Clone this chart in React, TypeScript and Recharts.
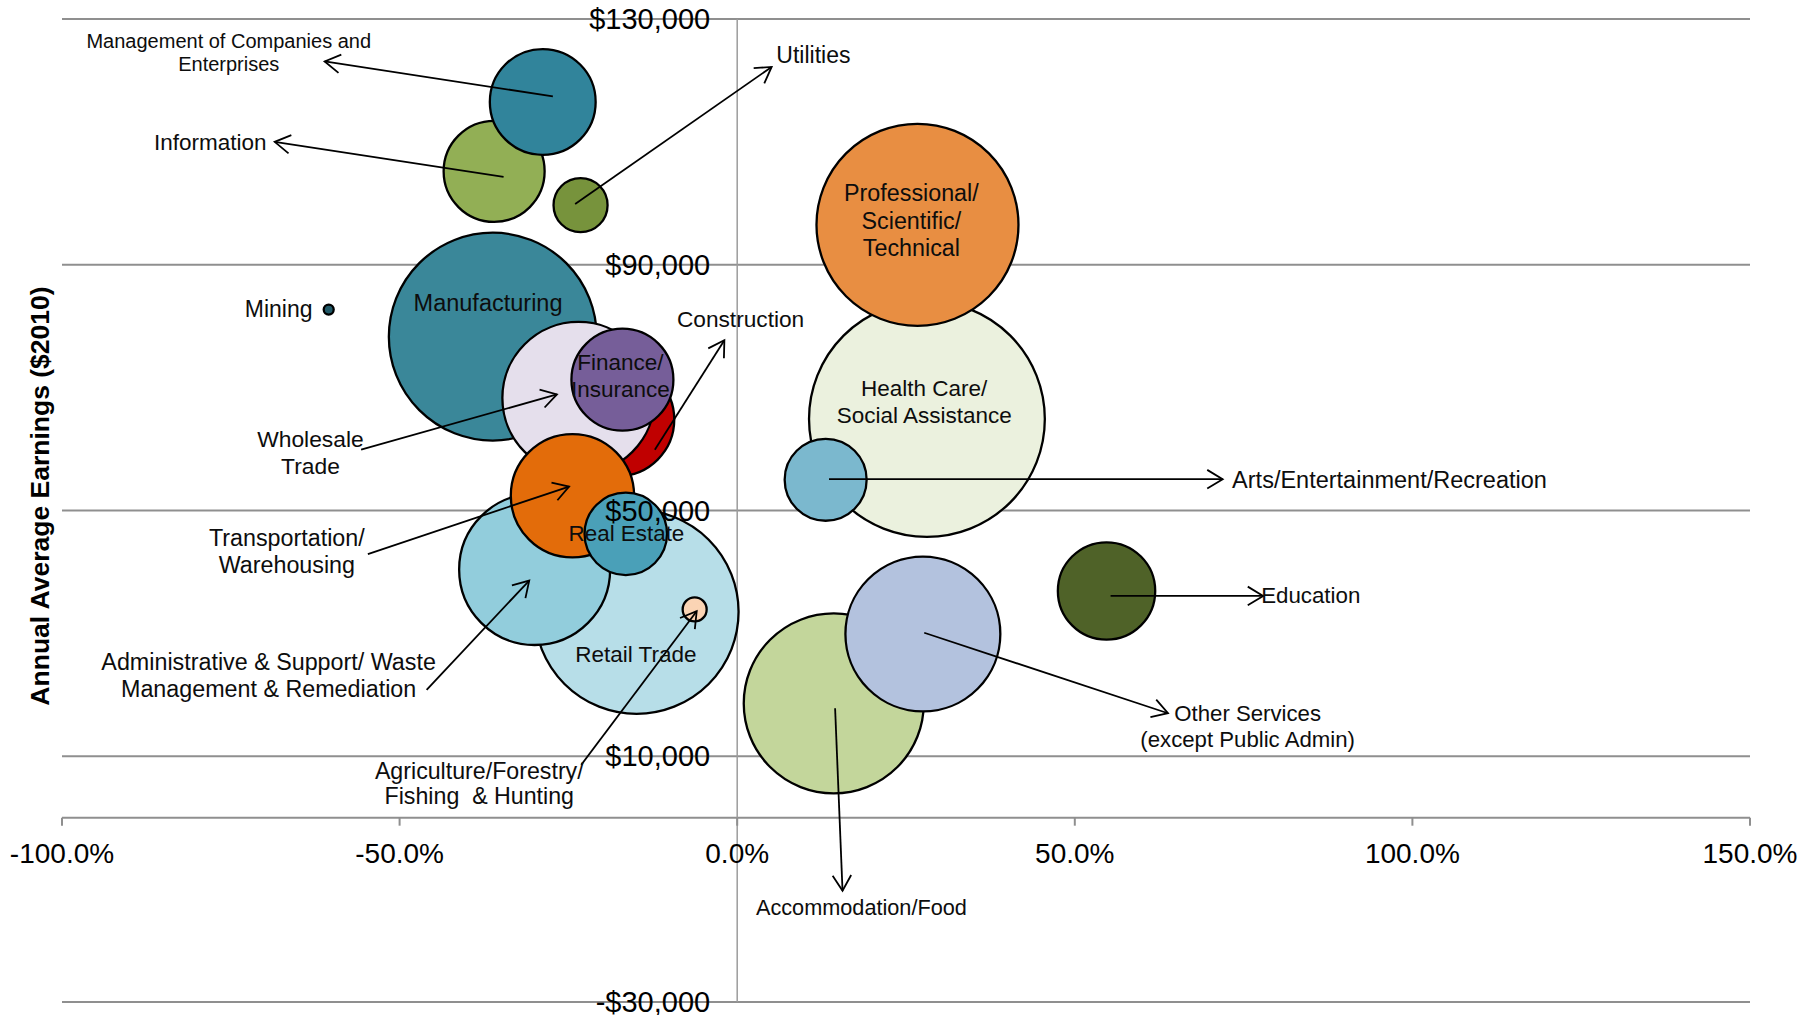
import React from 'react';
import { ScatterChart, Scatter, XAxis, YAxis, ZAxis, Cell, ReferenceLine, ReferenceDot } from 'recharts';

// ---- data (draw order: first drawn = bottom) ----
const industries = [
  'Health Care/Social Assistance',
  'Manufacturing',
  'Retail Trade',
  'Professional/Scientific/Technical',
  'Accommodation/Food',
  'Other Services (except Public Admin)',
  'Construction',
  'Wholesale Trade',
  'Administrative & Support/ Waste Management & Remediation',
  'Transportation/Warehousing',
  'Finance/Insurance',
  'Real Estate',
  'Information',
  'Management of Companies and Enterprises',
  'Education',
  'Arts/Entertainment/Recreation',
  'Utilities',
  'Agriculture/Forestry/Fishing & Hunting',
  'Mining',
];
// percent change in employment
const employmentChange = [28.1, -36.2, -14.9, 26.7, 14.3, 27.5, -17.7, -23.5, -30.0, -24.4, -17.0, -16.5, -36.0, -28.8, 54.7, 13.1, -23.2, -6.3, -60.5];
// annual average earnings ($2010)
const avgEarnings = [64900, 78300, 33500, 96500, 18600, 29900, 64800, 68300, 40400, 52400, 71300, 46200, 105200, 116500, 36900, 55000, 99700, 33900, 82700];
// employment (bubble size)
const employment = [13900, 10800, 10400, 10200, 8100, 6000, 3200, 5800, 5700, 3800, 2600, 1700, 2550, 2800, 2370, 1680, 730, 144, 25];

const xTicks = [-100, -50, 0, 50, 100, 150];
const yTicks = [-30000, 10000, 50000, 90000, 130000];

// ---- styles ----
const bubbleColors = ['#EBF1DE', '#3A8799', '#B7DEE8', '#E88E42', '#C3D69B', '#B3C2DE', '#C00000', '#E5DFEC', '#92CDDC', '#E36C0A', '#765E99', '#4AA0B8', '#92AF55', '#31849B', '#4F6228', '#7BB8CE', '#77933C', '#FBD4B4', '#215968'];
const FONT = '"Liberation Sans", Arial, sans-serif';
const GRID = '#8f8f8f';

// ---- annotations (data coordinates) ----
const arrowLinks = [
  { from: [-27.3, 117400], to: [-61.1, 123100] },
  { from: [-34.6, 104300], to: [-68.5, 110000] },
  { from: [-24.0, 99900], to: [5.1, 122200] },
  { from: [-55.7, 59900], to: [-26.7, 68900] },
  { from: [-12.2, 59900], to: [-1.9, 77700] },
  { from: [-54.7, 42900], to: [-24.9, 53900] },
  { from: [-46.0, 20800], to: [-30.8, 38600] },
  { from: [-23.1, 8600], to: [-6.0, 33600] },
  { from: [13.6, 55100], to: [71.9, 55100] },
  { from: [55.3, 36100], to: [77.9, 36100] },
  { from: [27.7, 30100], to: [63.8, 17000] },
  { from: [14.5, 17800], to: [15.6, -11900] },
];

const callouts = [
  { lines: ['Management of Companies and', 'Enterprises'], at: [-75.3, 125300], align: 'middle', size: 20, lead: 23.3 },
  { lines: ['Information'], at: [-69.7, 108700], align: 'end', size: 22.5, lead: 0 },
  { lines: ['Mining'], at: [-62.9, 81500], align: 'end', size: 23, lead: 0 },
  { lines: ['Manufacturing'], at: [-36.9, 82400], align: 'middle', size: 23.5, lead: 0 },
  { lines: ['Finance/', 'Insurance'], at: [-17.3, 72900], align: 'middle', size: 22.5, lead: 26.7 },
  { lines: ['Construction'], at: [0.5, 79900], align: 'middle', size: 22.7, lead: 0 },
  { lines: ['Wholesale', 'Trade'], at: [-63.2, 60400], align: 'middle', size: 22.8, lead: 27.3 },
  { lines: ['Transportation/', 'Warehousing'], at: [-66.7, 44200], align: 'middle', size: 23.3, lead: 26.7 },
  { lines: ['Administrative & Support/ Waste', 'Management & Remediation'], at: [-69.4, 24000], align: 'middle', size: 23.3, lead: 26.7 },
  { lines: ['Agriculture/Forestry/', 'Fishing  & Hunting'], at: [-38.2, 6300], align: 'middle', size: 23.2, lead: 24.7 },
  { lines: ['Retail Trade'], at: [-15.0, 25400], align: 'middle', size: 22.5, lead: 0 },
  { lines: ['Real Estate'], at: [-16.4, 45100], align: 'middle', size: 22.4, lead: 0 },
  { lines: ['Health Care/', 'Social Assistance'], at: [27.7, 68600], align: 'middle', size: 22.5, lead: 26.7 },
  { lines: ['Professional/', 'Scientific/', 'Technical'], at: [25.8, 100300], align: 'middle', size: 23.3, lead: 27.2 },
  { lines: ['Utilities'], at: [5.8, 122900], align: 'start', size: 23, lead: 0 },
  { lines: ['Arts/Entertainment/Recreation'], at: [73.3, 53700], align: 'start', size: 23.5, lead: 0 },
  { lines: ['Education'], at: [77.6, 34900], align: 'start', size: 22.3, lead: 0 },
  { lines: ['Other Services', '(except Public Admin)'], at: [75.6, 15700], align: 'middle', size: 22.2, lead: 25.6 },
  { lines: ['Accommodation/Food'], at: [18.4, -15800], align: 'middle', size: 21.7, lead: 0 },
];

const data = industries.map((name, i) => ({
  name,
  x: employmentChange[i],
  y: avgEarnings[i],
  z: employment[i],
}));

const fmtMoney = (v: number) => `${v < 0 ? '-' : ''}$${Math.abs(v).toLocaleString('en-US')}`;
const fmtPct = (v: number) => `${v.toFixed(1)}%`;

const Bubble = (p: any) => {
  const r = Math.sqrt(Math.max(p.size || 0, 0) / Math.PI);
  return <circle cx={p.cx} cy={p.cy} r={r} fill={p.fill} stroke="#000" strokeWidth={2.3} />;
};

const Arrow = (p: any) => {
  const { x1, y1, x2, y2 } = p;
  const ang = Math.atan2(y1 - y2, x1 - x2);
  const L = 18;
  const a = (31 * Math.PI) / 180;
  const ax = x2 + L * Math.cos(ang + a);
  const ay = y2 + L * Math.sin(ang + a);
  const bx = x2 + L * Math.cos(ang - a);
  const by = y2 + L * Math.sin(ang - a);
  return (
    <g>
      <line x1={x1} y1={y1} x2={x2} y2={y2} stroke="#000" strokeWidth={1.8} />
      <polyline points={`${ax},${ay} ${x2},${y2} ${bx},${by}`} fill="none" stroke="#000" strokeWidth={1.8} />
    </g>
  );
};

const makeLabel = (c: any) => (p: any) => (
  <text
    x={p.cx}
    y={p.cy}
    textAnchor={c.align}
    fontSize={c.size}
    fontFamily={FONT}
    fill="#0d0d0d"
    style={{ whiteSpace: 'pre' }}
  >
    {c.lines.map((ln: string, i: number) => (
      <tspan key={i} x={p.cx} dy={i === 0 ? 0 : c.lead}>
        {ln}
      </tspan>
    ))}
  </text>
);

const makeXTick = (t: number) => (p: any) => (
  <g>
    <line x1={p.cx} y1={p.cy} x2={p.cx} y2={p.cy + 8} stroke={GRID} strokeWidth={2} />
    <text x={p.cx} y={p.cy + 45} textAnchor="middle" fontSize={28} fontFamily={FONT} fill="#000">
      {fmtPct(t)}
    </text>
  </g>
);

const makeYTick = (t: number) => (p: any) => (
  <text x={p.cx - 27} y={p.cy + 10} textAnchor="end" fontSize={29} fontFamily={FONT} fill="#000">
    {fmtMoney(t)}
  </text>
);

export default function App() {
  return (
    <div style={{ position: 'relative', width: 1816, height: 1015, background: '#fff', overflow: 'hidden' }}>
      <style>{'body{margin:0;overflow:hidden;background:#fff}'}</style>
      <ScatterChart width={1816} height={1015} margin={{ top: 19, right: 66, bottom: 13, left: 62 }}>
        <XAxis type="number" dataKey="x" domain={[-100, 150]} ticks={xTicks} hide allowDataOverflow />
        <YAxis type="number" dataKey="y" domain={[-30000, 130000]} ticks={yTicks} hide allowDataOverflow />
        <ZAxis type="number" dataKey="z" domain={[0, 14000]} range={[0, 14000 * Math.PI]} />
        {yTicks.map((t) => (
          <ReferenceLine key={`g${t}`} y={t} stroke={GRID} strokeWidth={2} ifOverflow="visible" />
        ))}
        <ReferenceLine y={0} stroke={GRID} strokeWidth={2} ifOverflow="visible" />
        <ReferenceLine x={0} stroke="#9c9c9c" strokeWidth={1.5} ifOverflow="visible" />
        <Scatter data={data} shape={Bubble} isAnimationActive={false}>
          {data.map((d, i) => (
            <Cell key={d.name} fill={bubbleColors[i]} />
          ))}
        </Scatter>
        {xTicks.map((t) => (
          <ReferenceDot key={`xt${t}`} x={t} y={0} r={0} ifOverflow="visible" shape={makeXTick(t)} zIndex={2500} />
        ))}
        {yTicks.map((t) => (
          <ReferenceDot key={`yt${t}`} x={0} y={t} r={0} ifOverflow="visible" shape={makeYTick(t)} zIndex={2500} />
        ))}
        {arrowLinks.map((a, i) => (
          <ReferenceLine
            key={`a${i}`}
            segment={[{ x: a.from[0], y: a.from[1] }, { x: a.to[0], y: a.to[1] }]}
            ifOverflow="visible"
            shape={Arrow}
            zIndex={2500}
          />
        ))}
        {callouts.map((c, i) => (
          <ReferenceDot key={`c${i}`} x={c.at[0]} y={c.at[1]} r={0} ifOverflow="visible" shape={makeLabel(c)} zIndex={2600} />
        ))}
      </ScatterChart>
      <div
        style={{
          position: 'absolute',
          left: 40,
          top: 496,
          transform: 'translate(-50%, -50%) rotate(-90deg)',
          fontFamily: FONT,
          fontSize: 26.5,
          fontWeight: 'bold',
          whiteSpace: 'nowrap',
          color: '#000',
          lineHeight: 'normal',
        }}
      >
        Annual Average Earnings ($2010)
      </div>
    </div>
  );
}
